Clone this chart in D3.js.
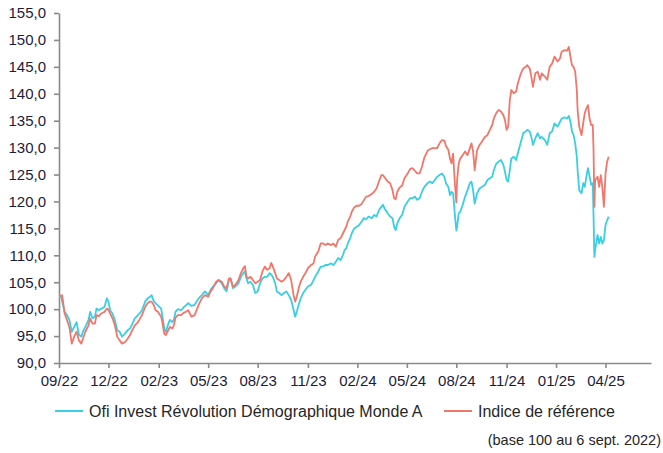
<!DOCTYPE html>
<html>
<head>
<meta charset="utf-8">
<script src="https://cdn.jsdelivr.net/npm/d3@7"></script>
<style>
  body { margin: 0; background: #fff; }
  svg { display: block; font-family: "Liberation Sans", Arial, sans-serif; }
  .axis path, .axis line { stroke: #8a8a8a; stroke-width: 1.6; }
  .axis text { fill: #1c1c3a; font-size: 15px; }
</style>
</head>
<body>
<svg width="663" height="453"></svg>
<script>
// trading days since 6 sept. 2022 (base 100)
const days = [
  0, 3, 4, 7, 10, 13, 16, 19, 22, 25, 28, 30, 33, 37, 39, 42, 45, 47, 50, 53, 57, 60, 62, 64, 67, 70,
  73, 76, 79, 83, 86, 89, 92, 95, 99, 101, 104, 108, 111, 114, 116, 119, 121, 124, 128, 129, 132, 134,
  137, 139, 142, 144, 146, 149, 153, 156, 159, 162, 166,
  170, 175, 179, 183, 187, 190, 193, 197, 200, 204, 207, 210, 213, 215, 218, 221, 225, 228, 231, 233,
  235, 237, 240, 243, 246, 249, 252, 255, 258, 261, 264, 266, 268, 271, 273, 276, 279, 282, 285, 288,
  291, 294, 296, 298, 301, 303, 306, 309, 312, 316, 319, 321, 325, 328, 331, 334, 337, 341, 344, 347,
  350, 353, 356, 358,
  360, 362, 365, 367, 370, 373, 376, 379, 382, 385, 388, 392, 395, 398, 401, 404, 406, 408, 412, 415,
  418, 420, 422, 424, 427, 430, 433, 437, 440, 443, 446, 449, 452, 455, 458, 462, 465, 468, 471, 474,
  477, 480, 483, 485, 488, 490, 492, 494, 496, 498, 499, 501, 503, 506, 509, 512, 515, 517, 519,
  521, 524, 527, 530, 534, 537, 540, 543, 545, 548, 551, 554, 557, 559, 561, 563, 565, 567, 570, 573,
  575, 579, 582, 585, 587, 590, 592, 594, 597, 600, 603, 605, 609, 612, 615, 618, 621, 625, 628, 630,
  634, 637, 639, 641, 643, 645, 647, 649, 650, 652, 655, 657, 659, 661, 663, 665, 667, 669, 670, 671,
  672, 675, 677, 679, 681, 683, 685, 687, 689
];

const fund = [
  102.3, 102.3, 101.4, 99.5, 98.9, 98.0, 95.8, 96.7, 97.6, 95.2, 94.9, 95.8, 96.7, 98.0, 99.5, 98.3, 98.6, 100.1, 99.8, 100.1, 100.4, 102.0, 101.4, 99.8, 99.2, 98.0,
  96.1, 95.8, 94.9, 95.5, 96.1, 96.4, 97.3, 98.3, 98.9, 99.2, 99.8, 101.4, 102.0, 102.3, 102.6, 101.4, 101.1, 100.7, 100.1, 99.2, 96.4, 95.8,
  97.3, 98.0, 97.6, 98.0, 99.5, 100.0, 99.8, 100.3, 100.7, 101.1, 100.6,
  100.8, 102.0, 102.6, 103.3, 102.6, 103.6, 104.2, 104.8, 105.4, 104.8, 103.9, 103.3, 105.4, 105.7, 103.9, 104.2, 104.8, 106.0, 106.7, 107.0,
  105.7, 104.8, 105.1, 104.5, 103.0, 103.3, 104.8, 105.7, 106.0, 106.0, 106.7, 106.4, 106.0, 104.8, 103.3, 103.0, 102.6, 103.0, 103.3, 102.6,
  101.7, 99.9, 98.6, 99.5, 101.1, 102.0, 103.0, 103.6, 104.2, 104.5, 105.4, 106.0, 107.0, 107.9, 107.9, 108.2, 108.2, 108.5, 108.2, 108.8,
  109.5, 109.1, 110.1, 111.0,
  111.3, 112.2, 113.2, 114.1, 115.0, 115.3, 115.6, 116.2, 116.9, 116.7, 117.2, 116.9, 117.5, 117.2, 118.4, 119.0, 119.4, 118.7, 117.8, 117.2,
  116.9, 115.3, 114.7, 115.9, 116.9, 117.5, 119.0, 120.0, 120.6, 120.6, 120.9, 120.3, 120.6, 121.8, 122.7, 123.4, 123.7, 123.4, 124.0, 124.6,
  124.9, 125.2, 124.6, 123.4, 122.7, 121.2, 121.8, 121.5, 117.8, 114.6, 115.3, 117.8, 118.1, 119.4, 120.9, 122.1, 123.4, 123.7, 122.1,
  119.6, 121.5, 122.4, 122.7, 123.1, 124.0, 124.3, 124.6, 125.8, 127.0, 127.4, 127.7, 126.8, 125.5, 124.0, 123.7, 125.8, 128.0, 128.3, 127.7,
  128.9, 131.1, 132.7, 133.0, 133.3, 133.0, 132.0, 130.5, 131.7, 132.7, 131.7, 132.0, 131.4, 130.5, 132.7, 133.0, 134.5, 133.9, 134.8, 135.4,
  135.6, 135.4, 135.9, 134.8, 133.0, 132.3, 130.8, 128.3, 125.8, 122.1, 121.5, 123.4, 122.7, 124.6, 126.2, 124.6, 123.1, 123.4, 117.2, 109.7,
  111.0, 113.8, 112.2, 113.4, 112.2, 112.8, 115.6, 116.5, 117.2
];

const bench = [
  102.6, 102.5, 102.6, 99.2, 98.0, 96.7, 93.6, 94.9, 95.8, 94.2, 93.6, 94.5, 95.8, 97.0, 98.3, 97.3, 97.3, 98.9, 98.7, 99.2, 99.5, 100.1, 99.9, 99.2, 98.3, 97.0,
  94.9, 94.2, 93.6, 93.9, 94.5, 95.2, 96.1, 97.0, 97.6, 98.1, 98.9, 100.4, 101.1, 101.4, 101.4, 100.7, 99.8, 99.5, 98.6, 98.0, 95.4, 95.2,
  96.1, 96.7, 96.4, 97.0, 98.4, 98.9, 98.9, 99.3, 99.5, 99.8, 98.6,
  98.9, 100.8, 102.0, 102.6, 102.3, 103.3, 103.9, 105.1, 105.4, 105.1, 104.2, 103.9, 105.7, 105.7, 104.2, 104.5, 105.4, 106.7, 107.6, 108.0,
  106.0, 105.7, 106.0, 105.4, 104.8, 105.1, 105.4, 107.0, 107.9, 107.3, 107.6, 108.6, 107.9, 106.7, 105.7, 105.4, 105.1, 105.4, 106.0, 106.7,
  105.4, 102.6, 101.4, 102.3, 104.2, 105.1, 106.0, 106.7, 107.6, 108.2, 108.5, 109.8, 110.7, 112.2, 112.2, 111.9, 112.2, 111.9, 112.2, 111.6,
  112.9, 113.2, 114.1, 114.7,
  115.3, 116.3, 117.2, 118.1, 118.9, 119.2, 119.2, 119.5, 120.2, 120.9, 121.0, 121.4, 121.8, 122.4, 123.7, 124.9, 124.9, 124.5, 123.7, 123.4,
  122.1, 120.6, 120.4, 121.8, 122.6, 122.9, 124.3, 125.2, 126.0, 126.2, 125.7, 125.2, 125.2, 126.5, 128.2, 129.4, 129.7, 129.9, 129.9, 129.9,
  130.8, 131.4, 131.3, 130.3, 129.6, 128.0, 127.1, 128.9, 123.7, 119.8, 124.0, 127.1, 128.0, 128.6, 129.3, 128.6, 129.9, 130.8, 129.3,
  125.8, 129.5, 130.5, 131.1, 132.0, 132.3, 133.3, 134.2, 135.4, 136.4, 137.0, 136.7, 136.0, 135.1, 133.3, 133.9, 138.8, 140.7, 140.1, 140.4,
  141.9, 143.8, 144.7, 145.0, 145.3, 144.7, 143.2, 141.3, 143.8, 144.1, 142.6, 143.8, 143.2, 142.6, 145.0, 145.6, 146.9, 146.0, 146.6, 147.8,
  148.1, 148.0, 148.7, 146.9, 145.3, 145.0, 144.1, 140.7, 137.0, 133.9, 132.3, 134.5, 136.4, 137.3, 137.9, 135.4, 134.2, 134.2, 129.5, 119.0,
  124.0, 124.6, 122.7, 124.9, 122.7, 119.0, 125.2, 127.4, 128.3
];

// category axis labels (trading day of each label)
const tickDays = [0, 62, 125, 187, 249, 312, 374, 436, 498, 561, 623, 685];
const tickLabels = ["09/22", "12/22", "02/23", "05/23", "08/23", "11/23", "02/24", "05/24", "08/24", "11/24", "01/25", "04/25"];
const yTicks = d3.range(90, 156, 5);

const seriesNames = ["Ofi Invest Révolution Démographique Monde A", "Indice de référence"];
const seriesColors = ["#38cfe5", "#f2766a"];
const footnote = "(base 100 au 6 sept. 2022)";

const svg = d3.select("svg");

const x = d3.scaleLinear().domain([0, 742]).range([59, 651]);
const y = d3.scaleLinear().domain([90, 155]).range([363, 13]);

svg.append("g")
  .attr("class", "axis")
  .attr("transform", "translate(59,0)")
  .call(d3.axisLeft(y)
    .tickValues(yTicks)
    .tickFormat(d => d.toFixed(1).replace(".", ","))
    .tickSize(5)
    .tickSizeOuter(0)
    .tickPadding(8));

svg.append("g")
  .attr("class", "axis")
  .attr("transform", "translate(0,363)")
  .call(d3.axisBottom(x)
    .tickValues(tickDays)
    .tickFormat((d, i) => tickLabels[i])
    .tickSize(5)
    .tickSizeOuter(0)
    .tickPadding(7));

const line = d3.line()
  .x(d => x(d[0]))
  .y(d => y(d[1]));

[fund, bench].forEach(function(vals, k) {
  svg.append("path")
    .datum(days.map((d, i) => [d, vals[i]]))
    .attr("fill", "none")
    .attr("stroke", seriesColors[k])
    .attr("stroke-width", 1.8)
    .attr("stroke-linejoin", "round")
    .attr("d", line);
});

// legend
const legendX = [55, 444];
const legend = svg.selectAll(".legend")
  .data(seriesNames)
  .enter()
  .append("g")
  .attr("class", "legend")
  .attr("transform", (d, i) => "translate(" + legendX[i] + ",411)");

legend.append("line")
  .attr("x1", 0).attr("x2", 28)
  .attr("stroke", (d, i) => seriesColors[i])
  .attr("stroke-width", 2);

legend.append("text")
  .attr("x", 34)
  .attr("dy", "0.35em")
  .attr("font-size", 16)
  .attr("fill", "#262626")
  .text(d => d);

svg.append("text")
  .attr("x", 661)
  .attr("y", 445)
  .attr("text-anchor", "end")
  .attr("font-size", 14.5)
  .attr("fill", "#262626")
  .text(footnote);
</script>
</body>
</html>
